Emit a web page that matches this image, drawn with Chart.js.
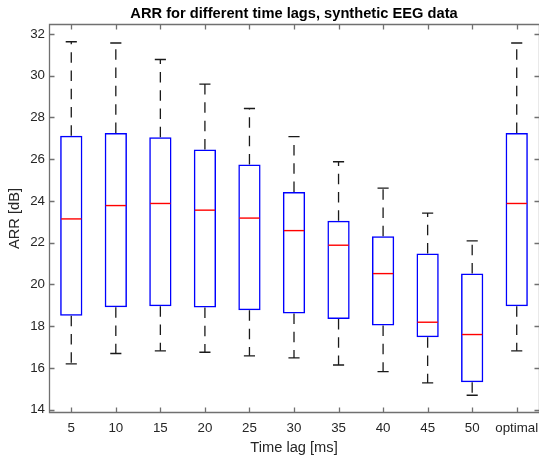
<!DOCTYPE html>
<html><head><meta charset="utf-8">
<script src="https://cdn.jsdelivr.net/npm/chart.js@4/dist/chart.umd.min.js"></script>
<style>html,body{margin:0;padding:0;background:#fff}#wrap{width:539px;height:460px}</style>
</head><body><div id="wrap"><canvas id="c" width="539" height="460"></canvas></div>
<script>
const categories = ['5','10','15','20','25','30','35','40','45','50','optimal'];
const whiskerHigh = [31.63,31.57,30.78,29.60,28.43,27.08,25.88,24.62,23.42,22.09,31.57];
const q3 = [27.12,27.26,27.05,26.47,25.75,24.43,23.05,22.31,21.48,20.52,27.26];
const medians = [23.14,23.78,23.88,23.56,23.18,22.58,21.88,20.52,18.19,17.60,23.88];
const q1 = [18.50,18.91,18.96,18.90,18.76,18.61,18.35,18.03,17.47,15.31,18.96];
const whiskerLow = [16.19,16.69,16.82,16.75,16.58,16.48,16.14,15.82,15.28,14.69,16.82];
const yTicks = [14,16,18,20,22,24,26,28,30,32];

const FONT = "'Liberation Sans', Arial, Helvetica, sans-serif";

const boxPlugin = {
  id: 'boxParts',
  afterDatasetsDraw(chart) {
    const ctx = chart.ctx;
    const xs = chart.scales.x, ys = chart.scales.y;
    const meta = chart.getDatasetMeta(0);
    ctx.save();
    categories.forEach((c, i) => {
      const x = xs.getPixelForValue(i);
      const bw = meta.data[i].width;
      const half = bw / 2, capHalf = bw / 4;
      const yHi = ys.getPixelForValue(whiskerHigh[i]);
      const yQ3 = ys.getPixelForValue(q3[i]);
      const yQ1 = ys.getPixelForValue(q1[i]);
      const yLo = ys.getPixelForValue(whiskerLow[i]);
      const yMed = ys.getPixelForValue(medians[i]);
      ctx.strokeStyle = '#1a1a1a';
      ctx.lineWidth = 1.3;
      ctx.setLineDash([10.5, 7.8]);
      ctx.beginPath(); ctx.moveTo(x, yQ3); ctx.lineTo(x, yHi); ctx.stroke();
      ctx.beginPath(); ctx.moveTo(x, yQ1); ctx.lineTo(x, yLo); ctx.stroke();
      ctx.setLineDash([]);
      ctx.beginPath();
      ctx.moveTo(x - capHalf, yHi); ctx.lineTo(x + capHalf, yHi);
      ctx.moveTo(x - capHalf, yLo); ctx.lineTo(x + capHalf, yLo);
      ctx.stroke();
      ctx.strokeStyle = '#ff0000';
      ctx.lineWidth = 1.4;
      ctx.beginPath(); ctx.moveTo(x - half + 1, yMed); ctx.lineTo(x + half - 1, yMed); ctx.stroke();
    });
    ctx.restore();
  },
  afterDraw(chart) {
    const ctx = chart.ctx;
    const a = chart.chartArea;
    const xs = chart.scales.x, ys = chart.scales.y;
    const L = Math.round(a.left) + 0.5, R = Math.round(a.right) + 0.5;
    const T = Math.round(a.top) + 0.5, B = Math.round(a.bottom) - 0.5;
    ctx.save();
    ctx.strokeStyle = '#707070';
    ctx.lineWidth = 1.3;
    ctx.beginPath();
    ctx.moveTo(L, T); ctx.lineTo(R, T); ctx.lineTo(R, B); ctx.lineTo(L, B); ctx.closePath();
    const tl = 5;
    yTicks.forEach(v => {
      const y = Math.round(ys.getPixelForValue(v)) + 0.5;
      ctx.moveTo(L, y); ctx.lineTo(L + tl, y);
      ctx.moveTo(R, y); ctx.lineTo(R - tl, y);
    });
    categories.forEach((c, i) => {
      const x = Math.round(xs.getPixelForValue(i)) + 0.5;
      ctx.moveTo(x, B); ctx.lineTo(x, B - tl);
      ctx.moveTo(x, T); ctx.lineTo(x, T + tl);
    });
    ctx.stroke();
    ctx.restore();
  }
};

new Chart(document.getElementById('c'), {
  type: 'bar',
  data: {
    labels: categories,
    datasets: [{
      data: categories.map((c, i) => [q1[i], q3[i]]),
      backgroundColor: 'rgba(0,0,0,0)',
      borderColor: '#0000ff',
      borderWidth: 1.5,
      borderSkipped: false,
      barPercentage: 0.5,
      categoryPercentage: 1
    }]
  },
  options: {
    responsive: false,
    animation: false,
    devicePixelRatio: 1,
    layout: { padding: 0 },
    plugins: {
      legend: { display: false },
      tooltip: { enabled: false },
      title: {
        display: true,
        text: 'ARR for different time lags, synthetic EEG data',
        fullSize: false,
        color: '#000',
        font: { family: FONT, size: 14.67, weight: 'bold', lineHeight: 1.2 },
        padding: { top: 5, bottom: 1.4 }
      }
    },
    scales: {
      x: {
        type: 'category',
        offset: true,
        grid: { display: false, drawTicks: false },
        border: { display: false },
        ticks: { color: '#262626', font: { family: FONT, size: 13.33, lineHeight: 1.2 }, padding: 7, maxRotation: 0, autoSkip: false },
        title: { display: true, text: 'Time lag [ms]', color: '#262626', font: { family: FONT, size: 14.67, lineHeight: 1.2 }, padding: { top: 0, bottom: 3.2 } },
        afterFit(s) { s.height = 47; s.paddingLeft = 0; s.paddingRight = 0; }
      },
      y: {
        type: 'linear',
        min: 13.84,
        max: 32.48,
        grid: { display: false, drawTicks: false },
        border: { display: false },
        afterBuildTicks(s) { s.ticks = yTicks.map(v => ({ value: v })); },
        ticks: { color: '#262626', font: { family: FONT, size: 13.33, lineHeight: 1.2 }, padding: 4 },
        title: { display: true, text: 'ARR [dB]', color: '#262626', font: { family: FONT, size: 14.67, lineHeight: 1.2 }, padding: { top: 5.7, bottom: 0 } },
        afterFit(s) { s.width = 49; s.paddingTop = 0; s.paddingBottom = 0; }
      }
    }
  },
  plugins: [boxPlugin]
});
</script>
</body></html>
